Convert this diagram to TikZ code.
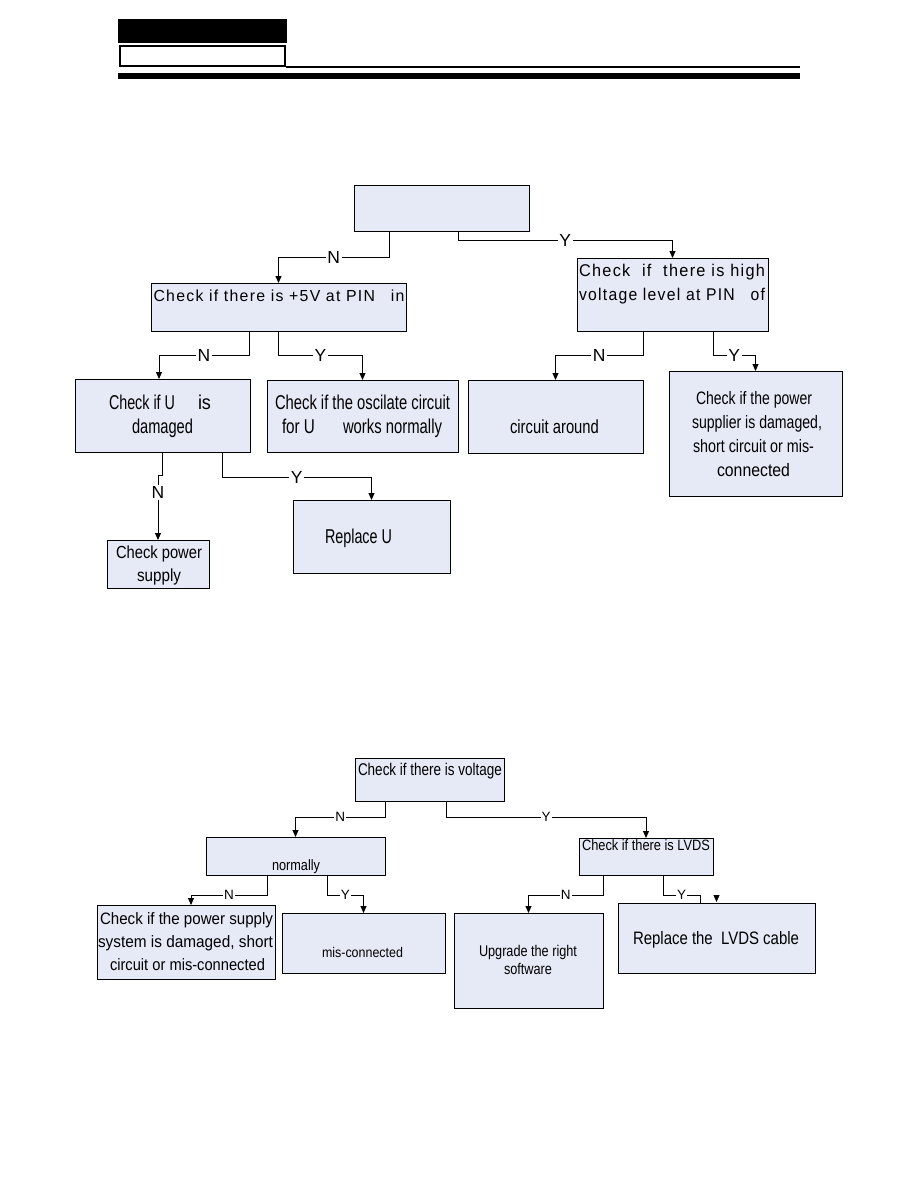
\documentclass[tikz,border=0pt]{standalone}
\usepackage{fontspec}
\usepackage{graphicx}
\usetikzlibrary{arrows.meta}
\newfontfamily\ar{Liberation Sans}
\newfontfamily\arsp[LetterSpace=8]{Liberation Sans}
\newcommand\fw[2]{\resizebox{#1pt}{\height}{#2}}
\newcommand\fs[1]{\fontsize{#1}{#1}\selectfont}
\definecolor{boxfill}{RGB}{230,234,246}
\tikzset{
  box/.style={draw=black, line width=1pt, fill=boxfill, inner sep=0pt, outer sep=0pt},
  t/.style={inner sep=0pt, outer sep=0pt, anchor=base west},
  conn/.style={line width=1pt},
  arr/.style={line width=1pt, -{Triangle[length=7pt,width=6pt]}},
  lab/.style={fill=white, inner sep=1.5pt, font=\ar\fs{17.5}},
  labs/.style={fill=white, inner sep=1pt, font=\ar\fs{13.5}},
}
\begin{document}
\begin{tikzpicture}[x=1pt,y=-1pt]
\useasboundingbox (0,0) rectangle (918,1188);
% header
\node[fill=black, inner sep=0pt, minimum width=169pt, minimum height=24pt] (hblack) at (202.5,31) {};
\node[draw=black, line width=2pt, fill=white, inner sep=0pt, minimum width=165pt, minimum height=20pt] (hwhite) at (202.5,56.5) {};
\coordinate (hend) at (800,67.5);
\draw[line width=2pt] (hwhite.south east) -- (hend);
\node[fill=black, inner sep=0pt, minimum width=682pt, minimum height=6pt] (hbar) at (459,76.5) {};

% ---------- chart 1 ----------
\node[box, minimum width=175pt, minimum height=46pt] (top) at (441.5,208) {};
\node[box, minimum width=255pt, minimum height=48pt] (A) at (278.5,307) {};
\node[box, minimum width=191pt, minimum height=73pt] (B) at (672.5,294.5) {};
\node[box, minimum width=175pt, minimum height=73pt] (C) at (162.5,415.5) {};
\node[box, minimum width=191pt, minimum height=72pt] (D) at (362.5,416) {};
\node[box, minimum width=175pt, minimum height=73pt] (E) at (555.5,416.5) {};
\node[box, minimum width=173pt, minimum height=125pt] (F) at (755.5,433.5) {};
\node[box, minimum width=102pt, minimum height=48pt] (G) at (158,564) {};
\node[box, minimum width=157pt, minimum height=73pt] (H) at (371.5,536.5) {};

\node[t, font=\arsp\fs{16}] (tA) at (153.5,301) {\fw{251}{Check if there is +5V at PIN\hspace{1em}in}};
\node[t, font=\arsp\fs{17}] (tB1) at (579,276) {\fw{186}{Check\ \ if\ \ there is high}};
\node[t, font=\arsp\fs{17}] (tB2) at (579,300) {\fw{186}{voltage level at PIN\hspace{1em}of}};
\node[t, font=\ar\fs{20}] (tC1) at (109,409) {\fw{66}{Check if U}};
\node[t, font=\ar\fs{20}] (tC1b) at (198,409) {\fw{13}{is}};
\node[t, font=\ar\fs{20}] (tC2) at (132,433) {\fw{61}{damaged}};
\node[t, font=\ar\fs{20}] (tD1) at (275,409) {\fw{175}{Check if the oscilate circuit}};
\node[t, font=\ar\fs{20}] (tD2) at (282,433) {\fw{33}{for U}};
\node[t, font=\ar\fs{20}] (tD2b) at (343,433) {\fw{99}{works normally}};
\node[t, font=\ar\fs{19}] (tE) at (510,433) {\fw{89}{circuit around}};
\node[t, font=\ar\fs{18}] (tF1) at (696,404) {\fw{116}{Check if the power}};
\node[t, font=\ar\fs{18}] (tF2) at (692,428) {\fw{130}{supplier is damaged,}};
\node[t, font=\ar\fs{18}] (tF3) at (693,452) {\fw{121}{short circuit or mis-}};
\node[t, font=\ar\fs{18}] (tF4) at (717,476) {\fw{73}{connected}};
\node[t, font=\ar\fs{17.5}] (tG1) at (116,558) {\fw{86}{Check power}};
\node[t, font=\ar\fs{17.5}] (tG2) at (137,581) {\fw{44}{supply}};
\node[t, font=\ar\fs{20}] (tH) at (325,543) {\fw{67}{Replace U}};

\draw[arr] ([xshift=-52.5pt]top.south) -- ++(0,26) -| node[lab,pos=0.25]{N} (A.north);
\draw[arr] ([xshift=16.5pt]top.south) -- ++(0,9) -| node[lab,pos=0.25]{Y} (B.north);
\draw[arr] ([xshift=-29.5pt]A.south) -- ++(0,24) -| node[lab,pos=0.25]{N} ([xshift=-3.5pt]C.north);
\draw[arr] (A.south) -- ++(0,24) -| node[lab,pos=0.25]{Y} (D.north);
\draw[arr] ([xshift=-29.5pt]B.south) -- ++(0,24) -| node[lab,pos=0.25]{N} (E.north);
\draw[arr] ([xshift=40.5pt]B.south) -- ++(0,24) -| node[lab,pos=0.25]{Y} (F.north);
\draw[arr] (C.south) -- ++(0,23) -- ++(-4.5,0) -- node[lab,pos=0.27]{N} (G.north);
\draw[arr] ([xshift=59.5pt]C.south) -- ++(0,25) -| node[lab,pos=0.25]{Y} (H.north);

% ---------- chart 2 ----------
\node[box, minimum width=149pt, minimum height=43pt] (T2) at (429.5,779.5) {};
\node[box, minimum width=179pt, minimum height=38pt] (NM) at (295.5,856) {};
\node[box, minimum width=134pt, minimum height=37pt] (LV) at (646,856.5) {};
\node[box, minimum width=178pt, minimum height=74pt] (PW) at (186,942) {};
\node[box, minimum width=163pt, minimum height=60pt] (MC) at (363.5,943) {};
\node[box, minimum width=149pt, minimum height=95pt] (UP) at (528.5,960.5) {};
\node[box, minimum width=197pt, minimum height=70pt] (RL) at (716.5,938) {};

\node[t, font=\ar\fs{17}] (tT2) at (358,775) {\fw{144}{Check if there is voltage}};
\node[t, font=\ar\fs{15}] (tNM) at (272,870) {\fw{48}{normally}};
\node[t, font=\ar\fs{15}] (tLV) at (582,850) {\fw{128}{Check if there is LVDS}};
\node[t, font=\ar\fs{16.5}] (tPW1) at (100,924) {\fw{173}{Check if the power supply}};
\node[t, font=\ar\fs{16.5}] (tPW2) at (98,947) {\fw{175}{system is damaged, short}};
\node[t, font=\ar\fs{16.5}] (tPW3) at (110,970) {\fw{155}{circuit or mis-connected}};
\node[t, font=\ar\fs{14}] (tMC) at (322,957) {\fw{81}{mis-connected}};
\node[t, font=\ar\fs{15.5}] (tUP1) at (479,956) {\fw{98}{Upgrade the right}};
\node[t, font=\ar\fs{15.5}] (tUP2) at (504,974) {\fw{48}{software}};
\node[t, font=\ar\fs{18}] (tRL) at (633,944) {\fw{166}{Replace the\ \ LVDS cable}};

\draw[arr] ([xshift=-44.5pt]T2.south) -- ++(0,16) -| node[labs,pos=0.25]{N} (NM.north);
\draw[arr] ([xshift=16.5pt]T2.south) -- ++(0,16) -| node[labs,pos=0.25]{Y} (LV.north);
\draw[arr] ([xshift=-28.5pt]NM.south) -- ++(0,20) -| node[labs,pos=0.25]{N} ([xshift=5pt]PW.north);
\draw[arr] ([xshift=31.5pt]NM.south) -- ++(0,20) -| node[labs,pos=0.25]{Y} (MC.north);
\draw[arr] ([xshift=-43pt]LV.south) -- ++(0,20) -| node[labs,pos=0.25]{N} (UP.north);
\draw[conn] ([xshift=17pt]LV.south) -- ++(0,20) -| node[labs,pos=0.25]{Y} ([xshift=-16.5pt]RL.north);
\draw[arr] ([yshift=8pt]RL.north) -- ([yshift=1pt]RL.north);
\end{tikzpicture}
\end{document}
